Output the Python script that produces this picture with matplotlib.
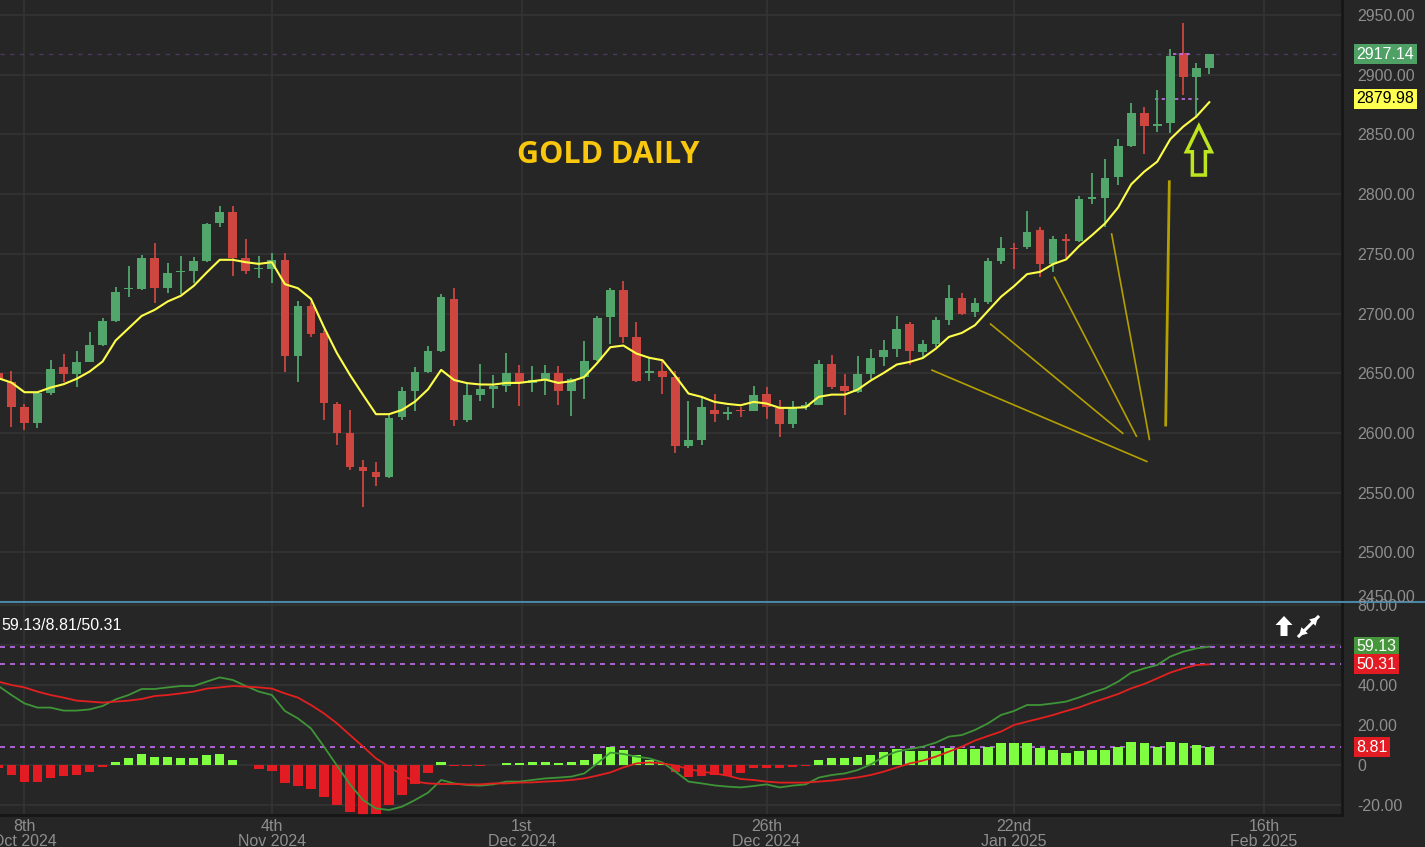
import matplotlib
matplotlib.use('Agg')
import matplotlib.pyplot as plt
import matplotlib.transforms as mtransforms
from matplotlib.patches import Polygon
from matplotlib.lines import Line2D
import numpy as np

# daily candles (oldest first)
opens = [2650.0, 2642.5, 2621.5, 2608.7, 2633.3, 2655.0, 2649.5, 2659.8, 2673.7, 2693.9,
         2720.5, 2720.7, 2746.4, 2721.2, 2734.4, 2735.8, 2744.1, 2775.7, 2784.9, 2746.4,
         2736.9, 2737.2, 2745.0, 2664.5, 2705.9, 2683.5, 2624.3, 2599.7, 2571.2, 2567.6,
         2563.4, 2613.1, 2635.5, 2650.8, 2669.0, 2712.5, 2611.0, 2632.1, 2637.2, 2639.7,
         2650.3, 2642.0, 2644.7, 2650.3, 2634.9, 2646.7, 2661.0, 2697.0, 2720.1, 2680.4,
         2650.3, 2651.7, 2647.0, 2589.0, 2594.0, 2619.6, 2616.0, 2619.6, 2618.7, 2633.0,
         2621.0, 2607.8, 2621.5, 2623.8, 2657.8, 2639.1, 2634.1, 2649.7, 2663.4, 2670.7,
         2691.6, 2667.8, 2674.8, 2695.0, 2713.1, 2701.4, 2709.8, 2743.9, 2755.1, 2755.4,
         2769.9, 2741.9, 2762.4, 2760.7, 2795.9, 2796.5, 2814.1, 2840.6, 2867.8, 2857.4,
         2859.9, 2918.1, 2898.5, 2905.5]
highs = [2655.0, 2652.2, 2624.3, 2634.5, 2661.2, 2666.2, 2668.7, 2684.9, 2696.1, 2722.1,
         2740.2, 2749.2, 2758.9, 2742.7, 2747.8, 2747.2, 2775.5, 2790.2, 2790.2, 2762.6,
         2747.8, 2750.6, 2750.6, 2710.1, 2710.0, 2686.3, 2626.3, 2619.3, 2577.4, 2576.0,
         2615.1, 2638.8, 2655.6, 2672.9, 2716.5, 2721.2, 2641.0, 2657.8, 2648.9, 2667.0,
         2656.7, 2655.9, 2656.7, 2655.9, 2646.1, 2676.8, 2697.8, 2721.5, 2727.1, 2693.0,
         2662.8, 2660.0, 2651.7, 2627.1, 2631.3, 2633.0, 2621.8, 2621.8, 2639.1, 2638.3,
         2628.0, 2627.1, 2625.7, 2660.9, 2665.6, 2649.4, 2664.2, 2670.7, 2677.7, 2697.8,
         2693.0, 2678.2, 2697.2, 2724.3, 2716.8, 2713.1, 2746.1, 2763.7, 2758.7, 2786.1,
         2772.1, 2764.9, 2766.3, 2798.7, 2817.4, 2829.5, 2846.0, 2876.1, 2872.8, 2887.3,
         2921.4, 2943.3, 2909.7, 2917.6]
lows = [2640.0, 2604.8, 2602.5, 2603.9, 2632.0, 2643.0, 2638.3, 2659.0, 2673.0, 2692.8,
        2713.7, 2719.8, 2708.7, 2717.6, 2716.5, 2725.4, 2743.0, 2772.1, 2731.8, 2733.2,
        2729.6, 2725.4, 2651.4, 2643.0, 2680.2, 2610.9, 2590.0, 2569.0, 2537.7, 2555.6,
        2562.6, 2610.9, 2618.6, 2650.0, 2668.2, 2606.2, 2609.0, 2627.1, 2621.0, 2634.4,
        2622.4, 2634.4, 2632.1, 2623.8, 2614.0, 2628.8, 2660.1, 2674.9, 2675.4, 2643.0,
        2643.3, 2633.0, 2583.2, 2587.4, 2590.3, 2609.0, 2611.2, 2613.4, 2618.0, 2612.0,
        2596.7, 2604.2, 2619.6, 2623.0, 2636.9, 2614.8, 2633.5, 2645.5, 2655.9, 2663.7,
        2656.7, 2663.7, 2672.0, 2690.2, 2698.6, 2697.2, 2708.4, 2741.9, 2737.7, 2753.7,
        2730.8, 2735.0, 2746.1, 2759.6, 2791.7, 2772.7, 2807.6, 2839.8, 2833.6, 2852.4,
        2851.5, 2883.1, 2863.6, 2900.7]
closes = [2644.0, 2622.1, 2608.7, 2633.3, 2653.6, 2649.5, 2659.8, 2673.7, 2693.9, 2718.4,
          2721.5, 2746.4, 2721.2, 2733.8, 2735.5, 2744.1, 2775.1, 2784.9, 2746.9, 2735.8,
          2737.2, 2745.0, 2664.5, 2705.9, 2683.0, 2624.9, 2600.3, 2571.2, 2567.9, 2562.9,
          2612.9, 2635.2, 2651.4, 2669.0, 2713.7, 2611.0, 2631.5, 2636.9, 2639.7, 2650.3,
          2641.9, 2644.0, 2650.3, 2634.9, 2645.3, 2660.6, 2696.4, 2720.1, 2680.4, 2643.3,
          2651.7, 2647.0, 2589.4, 2594.0, 2621.8, 2616.0, 2617.3, 2618.2, 2632.1, 2621.4,
          2607.8, 2621.5, 2623.8, 2657.8, 2638.6, 2634.9, 2649.4, 2662.8, 2669.3, 2687.4,
          2668.4, 2674.8, 2695.0, 2713.1, 2700.0, 2709.2, 2743.9, 2754.5, 2754.0, 2768.5,
          2741.9, 2762.4, 2760.7, 2795.6, 2797.3, 2813.2, 2840.6, 2867.8, 2857.4, 2858.5,
          2915.8, 2898.5, 2905.5, 2917.1]

# yellow moving average
ma = [2645.8, 2642.2, 2634.1, 2634.1, 2638.0, 2640.8, 2645.3, 2651.4, 2659.8, 2677.4,
      2687.7, 2698.0, 2703.1, 2710.1, 2714.8, 2723.2, 2734.4, 2745.0, 2745.0, 2743.0,
      2741.6, 2743.0, 2724.6, 2721.2, 2712.3, 2688.6, 2666.8, 2648.6, 2631.9, 2615.7,
      2615.7, 2619.3, 2626.3, 2636.6, 2652.8, 2644.3, 2641.7, 2640.6, 2640.5, 2641.9,
      2641.9, 2643.3, 2644.7, 2641.9, 2643.3, 2646.9, 2658.7, 2671.8, 2673.2, 2666.5,
      2662.9, 2660.9, 2647.5, 2633.0, 2630.2, 2626.0, 2624.3, 2623.2, 2626.0, 2624.6,
      2621.0, 2621.0, 2621.5, 2630.2, 2632.1, 2632.1, 2636.3, 2643.9, 2650.3, 2657.3,
      2659.5, 2662.8, 2670.6, 2680.4, 2683.8, 2690.2, 2702.2, 2714.0, 2722.9, 2733.0,
      2734.9, 2741.4, 2745.3, 2756.5, 2765.7, 2775.5, 2788.9, 2808.2, 2818.8, 2827.2,
      2846.0, 2856.6, 2865.0, 2877.0]

# lower oscillator
osc_fast = [39.5, 35.0, 30.8, 28.7, 28.7, 27.2, 27.2, 27.8, 29.5, 32.8,
            35.0, 38.0, 38.0, 38.8, 39.5, 39.5, 41.7, 43.8, 42.5, 39.5,
            36.7, 35.0, 27.0, 23.3, 18.3, 9.2, -0.3, -9.7, -17.5, -21.7,
            -22.5, -20.8, -17.5, -13.8, -7.5, -9.2, -10.0, -10.3, -9.7, -8.3,
            -8.3, -7.5, -6.7, -6.3, -5.8, -4.2, 0.8, 6.2, 5.5, 4.2,
            3.3, 1.3, -3.3, -8.3, -9.2, -10.2, -10.8, -11.2, -10.5, -9.7,
            -11.2, -10.3, -9.7, -6.3, -5.0, -4.2, -2.5, 0.3, 4.2, 6.7,
            8.0, 9.2, 11.2, 14.2, 15.0, 17.5, 20.8, 25.0, 27.0, 30.0,
            30.0, 30.8, 31.7, 33.8, 36.2, 38.3, 41.7, 46.2, 48.3, 50.0,
            54.2, 56.7, 58.3, 59.13]
osc_slow = [41.7, 40.0, 38.8, 36.7, 35.0, 33.7, 32.2, 31.7, 31.2, 31.7,
            32.2, 33.0, 34.5, 35.0, 35.8, 36.7, 38.2, 38.8, 39.5, 39.2,
            38.8, 38.2, 35.8, 33.7, 30.0, 25.8, 20.8, 15.0, 9.2, 3.3,
            -0.8, -5.0, -8.3, -9.2, -9.5, -9.5, -9.7, -9.7, -9.2, -9.2,
            -8.8, -8.7, -8.3, -8.0, -7.5, -6.7, -5.3, -3.7, -1.2, 0.8,
            1.3, 0.8, -0.3, -2.0, -3.3, -4.2, -5.3, -7.0, -7.5, -8.3,
            -8.8, -8.8, -8.8, -8.3, -7.8, -7.0, -6.2, -5.0, -3.3, -1.2,
            0.8, 2.2, 4.2, 6.7, 9.2, 12.2, 14.5, 16.7, 20.0, 21.7,
            23.3, 25.0, 27.0, 28.8, 31.2, 33.3, 35.5, 38.3, 40.5, 43.3,
            46.2, 48.3, 50.0, 50.31]
osc_hist = [-1.5, -5.0, -8.3, -8.3, -6.3, -5.3, -5.0, -3.3, -0.8, 1.7,
            3.3, 5.5, 3.8, 3.8, 3.3, 3.3, 4.8, 5.5, 2.5, 0.0,
            -2.0, -2.8, -8.8, -10.3, -11.8, -16.2, -20.0, -23.7, -25.0, -24.5,
            -20.0, -15.0, -9.7, -4.2, 1.7, -0.4, -0.4, -0.4, 0.0, 1.0,
            1.2, 1.7, 1.7, 1.2, 1.7, 2.5, 5.5, 9.2, 7.5, 5.0,
            2.5, 1.2, -3.3, -5.8, -5.3, -5.0, -5.3, -4.0, -1.5, -1.5,
            -1.5, -1.0, -0.5, 2.5, 3.3, 3.3, 4.2, 5.0, 6.3, 7.8,
            7.2, 7.2, 7.2, 8.7, 7.8, 7.8, 9.2, 10.8, 10.8, 10.8,
            8.7, 7.5, 6.2, 7.0, 7.5, 7.5, 9.2, 11.3, 10.8, 9.2,
            11.3, 10.8, 10.0, 8.81]

date_ticks = [2, 21, 40.2, 59, 78, 97.2]
date_labels = ['8th\nOct 2024', '4th\nNov 2024', '1st\nDec 2024',
               '26th\nDec 2024', '22nd\nJan 2025', '16th\nFeb 2025']
price_ticks = [2500, 2550, 2600, 2650, 2700, 2750, 2800, 2850, 2900, 2950]
osc_ticks = [-20, 0, 20, 40, 60, 80]
osc_labels = ['-20.00', '0', '20.00', '40.00', '60.00', '80.00']
last_price = 2917.14
ma_label = 2879.98

# hand drawn fan lines and arrow (bar index, price)
fan_lines = [((71.7, 2652.6), (88.2, 2576.1)),
             ((76.2, 2691.2), (86.35, 2599.7)),
             ((81.1, 2730.3), (87.4, 2597.3)),
             ((85.5, 2766.6), (88.4, 2594.6))]
fan_vertical = ((89.93, 2810.4), (89.65, 2606.6))

BG = '#262626'
GRID = '#343434'
GRAY = '#8e8e8e'
UP = '#52a66c'
DOWN = '#cd4740'
PURPLE = '#c46ef0'
FS = 11.5

plt.rcParams['font.family'] = ['Liberation Sans', 'DejaVu Sans']

W, H = 1425, 847
fig = plt.figure(figsize=(W / 100, H / 100), dpi=100, facecolor=BG)


def fx(px):
    return px / W


def fy(py):
    return 1 - py / H


ax1 = fig.add_axes([0, fy(602), fx(1342), 602 / H])
ax2 = fig.add_axes([0, fy(815), fx(1342), (815 - 603) / H], sharex=ax1)

x = np.arange(len(opens))
o = np.array(opens)
c = np.array(closes)
col = [UP if cc >= oo else DOWN for oo, cc in zip(o, c)]

# candles
ax1.vlines(x, lows, highs, colors=col, lw=1.3, zorder=3)
ax1.bar(x, np.maximum(np.abs(c - o), 0.9), bottom=np.minimum(o, c), width=0.67,
        color=col, zorder=3)
ax1.plot(x, ma, color='#ffff4a', lw=1.5, zorder=4)

ax1.axhline(last_price, color='#4b3a60', ls=(0, (3, 4)), lw=1, zorder=1)
ax1.hlines(ma_label, 88.8, 92.3, colors=PURPLE, linestyles=(0, (2, 2)), lw=1.2, zorder=2)
ax1.hlines(last_price, 90.2, 91.6, colors=PURPLE, linestyles=(0, (2, 2)), lw=1.2, zorder=5)

for (x0, y0), (x1, y1) in fan_lines:
    ax1.plot([x0, x1], [y0, y1], color='#b4a000', lw=1.2, zorder=2)
ax1.plot([fan_vertical[0][0], fan_vertical[1][0]], [fan_vertical[0][1], fan_vertical[1][1]],
         color='#b4a000', lw=2, zorder=2)

# hollow up arrow
xc, tip, base, bottom = 92.2, 2857.0, 2835.5, 2816.0
arrow = [(xc, tip), (xc + 0.96, base), (xc + 0.5, base), (xc + 0.5, bottom),
         (xc - 0.5, bottom), (xc - 0.5, base), (xc - 0.96, base)]
ax1.add_patch(Polygon(arrow, closed=True, fill=False, ec='#bee61e', lw=2.5, zorder=6))

ax1.text(0.453, 0.7425, 'GOLD DAILY', transform=ax1.transAxes, ha='center', va='center',
         fontsize=22, fontweight='bold', color='#f9c80e', family=['Open Sans', 'DejaVu Sans'])

# oscillator
hcol = ['#80ff40' if v >= 0 else '#e31b23' for v in osc_hist]
ax2.bar(x, osc_hist, width=0.72, color=hcol, zorder=2)
ax2.plot(x, osc_fast, color='#3f9438', lw=1.3, zorder=3)
ax2.plot(x, osc_slow, color='#e3201f', lw=1.3, zorder=3)
for v in (osc_fast[-1], osc_slow[-1], osc_hist[-1]):
    ax2.axhline(v, color=PURPLE, ls=(0, (3, 3)), lw=1.2, zorder=1)

ax1.set_xlim(0.12, 0.12 + 1342 / 13.02)
ax1.set_ylim(2458.4, 2962.6)
ax2.set_ylim(-25, 81)

for ax in (ax1, ax2):
    ax.set_facecolor(BG)
    ax.grid(True, color=GRID, lw=1.2)
    ax.set_axisbelow(True)
    ax.yaxis.tick_right()
    ax.tick_params(axis='y', length=0, pad=11, labelsize=FS, labelcolor=GRAY)
    for s in ('top', 'left', 'bottom'):
        ax.spines[s].set_visible(False)
    ax.spines['right'].set_color('#161616')
    ax.spines['right'].set_linewidth(2)

ax1.set_yticks(price_ticks, labels=['%.2f' % v for v in price_ticks])
ax2.set_yticks(osc_ticks, labels=osc_labels)
ax2.set_xticks(date_ticks, labels=date_labels)
ax1.tick_params(axis='x', length=0, labelbottom=False)
ax2.tick_params(axis='x', length=0, pad=3, labelsize=FS, labelcolor=GRAY)
for lab in ax2.get_xticklabels():
    lab.set_linespacing(0.95)
ax2.spines['bottom'].set_visible(True)
ax2.spines['bottom'].set_color('#161616')
ax2.spines['bottom'].set_linewidth(2)

fig.text(fx(1357), fy(597), '2450.00', ha='left', va='center', fontsize=FS, color=GRAY)


# value boxes on the right axis
def value_box(ax, y, text, fc, tc):
    tr = mtransforms.blended_transform_factory(ax.transAxes, ax.transData)
    ax.text(1 + 14.5 / 1342, y, text, transform=tr, ha='left', va='center', fontsize=FS,
            color=tc, clip_on=False, zorder=10,
            bbox=dict(boxstyle='square,pad=0.16', fc=fc, ec='none'))


value_box(ax1, last_price, '%.2f' % last_price, '#4fa064', 'white')
value_box(ax1, ma_label, '%.2f' % ma_label, '#ffff50', 'black')
value_box(ax2, osc_fast[-1], '%.2f' % osc_fast[-1], '#46963c', 'white')
value_box(ax2, osc_slow[-1], '%.2f' % osc_slow[-1], '#e31b23', 'white')
value_box(ax2, osc_hist[-1], '%.2f' % osc_hist[-1], '#e31b23', 'white')

fig.text(fx(1), fy(625), '%.2f/%.2f/%.2f' % (osc_fast[-1], osc_hist[-1], osc_slow[-1]),
         ha='left', va='center', fontsize=FS, color='white')

# panel separator
fig.add_artist(Line2D([0, 1], [fy(602), fy(602)], transform=fig.transFigure,
                      color='#4a86a8', lw=1.5))

# small icons top right of the lower panel (pixel positions)
up_icon = [(1284, 616), (1292.5, 625), (1287.5, 625), (1287.5, 636), (1280.5, 636),
           (1280.5, 625), (1275.5, 625)]
fig.add_artist(Polygon([(fx(a), fy(b)) for a, b in up_icon], closed=True,
                       transform=fig.transFigure, fc='white', ec='none'))
p0, p1 = np.array([1299.0, 636.0]), np.array([1318.0, 617.0])
fig.add_artist(Line2D([fx(p0[0]), fx(p1[0])], [fy(p0[1]), fy(p1[1])],
                      transform=fig.transFigure, color='white', lw=2.2))
d = (p1 - p0) / np.hypot(*(p1 - p0))
n = np.array([-d[1], d[0]])
for tipp, dd in ((p1, d), (p0, -d)):
    back = tipp - dd * 8
    tri = [tipp, back + n * 4.5, back - n * 4.5]
    fig.add_artist(Polygon([(fx(a), fy(b)) for a, b in tri], closed=True,
                           transform=fig.transFigure, fc='white', ec='none'))

fig.savefig('out.png', dpi=100, facecolor=BG)
